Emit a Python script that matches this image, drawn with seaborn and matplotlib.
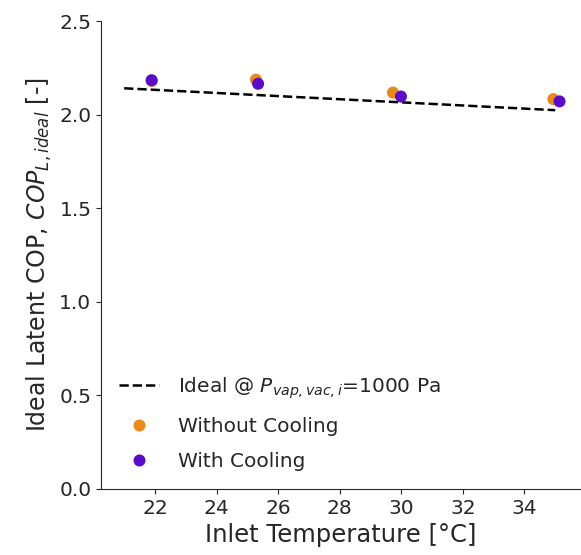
import matplotlib
matplotlib.use("Agg")
import matplotlib.pyplot as plt
import pandas as pd
import seaborn as sns

ORANGE = "#E8891D"
PURPLE = "#5A0CC6"

# Measured points
temp_no_cool = [21.9, 25.28, 29.73, 34.94]
cop_no_cool = [2.18, 2.187, 2.118, 2.083]
temp_cool = [21.89, 25.35, 29.99, 35.14]
cop_cool = [2.184, 2.165, 2.097, 2.071]

# Ideal line
temp_ideal = [21.0, 35.0]
cop_ideal = [2.141, 2.024]

df = pd.DataFrame({
    "temp": temp_no_cool + temp_cool,
    "cop": cop_no_cool + cop_cool,
    "case": ["Without Cooling"] * len(temp_no_cool) + ["With Cooling"] * len(temp_cool),
})
ideal = pd.DataFrame({"temp": temp_ideal, "cop": cop_ideal})

sns.set_style("ticks")
plt.rcParams["font.family"] = ["DejaVu Sans"]

fig = plt.figure(figsize=(5.81, 5.55), dpi=100)
ax = fig.add_axes([0.174, 0.119, 0.824, 0.843])

sns.lineplot(data=ideal, x="temp", y="cop", ax=ax, color="black", linestyle="--",
             linewidth=1.8, label=r"Ideal @ $P_{vap,vac,i}$=1000 Pa")
sns.scatterplot(data=df, x="temp", y="cop", hue="case", ax=ax,
                palette={"Without Cooling": ORANGE, "With Cooling": PURPLE},
                s=75, linewidth=0, zorder=3)

ax.set_xlim(20.25, 35.8)
ax.set_ylim(0.0, 2.5)
ax.set_xticks([22, 24, 26, 28, 30, 32, 34])
ax.set_yticks([0.0, 0.5, 1.0, 1.5, 2.0, 2.5])
ax.tick_params(labelsize=14.5)
ax.set_xlabel("Inlet Temperature [°C]", fontsize=17.5)
ax.set_ylabel(r"Ideal Latent COP, $COP_{L,ideal}$ [-]", fontsize=17)
sns.despine(ax=ax)

ax.legend(loc="lower left", frameon=False, fontsize=14.5,
          handlelength=2.0, handletextpad=0.9, labelspacing=0.8)

fig.savefig("out.png", dpi=100)
